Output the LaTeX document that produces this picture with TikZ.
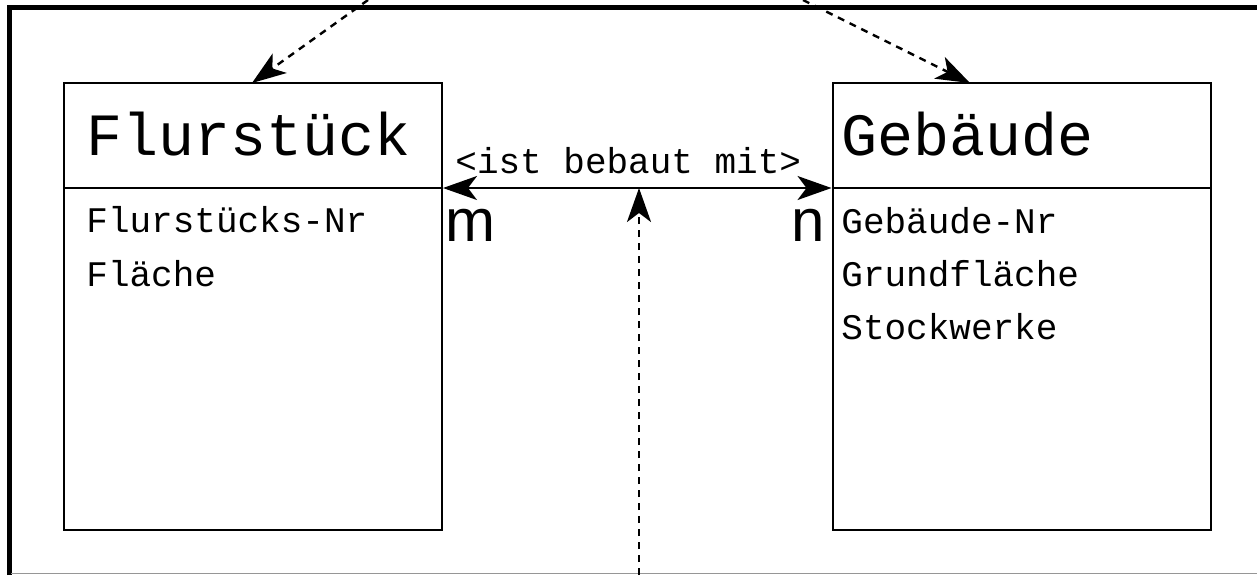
\documentclass[tikz,border=0pt]{standalone}
\usepackage{fontspec}
\setmonofont{Liberation Mono}
\setsansfont{Liberation Sans}
\usetikzlibrary{arrows.meta}

\begin{document}
\begin{tikzpicture}[x=0.5pt,y=0.5pt,yscale=-1,xscale=1,
    entbox/.style={draw, line width=1pt, rectangle, inner sep=0pt, minimum width=189pt, minimum height=223.5pt},
    titletext/.style={anchor=base west, inner sep=0pt, font=\ttfamily\fontsize{30}{36}\selectfont},
    attrtext/.style={anchor=base west, inner sep=0pt, font=\ttfamily\fontsize{18}{22}\selectfont},
    cardtext/.style={anchor=base west, inner sep=0pt, font=\sffamily\fontsize{30}{34}\selectfont},
    ertip/.tip={Stealth[length=17pt,width=12pt,inset=4.5pt]},
    dashline/.style={dash pattern={on 3.5pt off 3pt}, line width=1.2pt},
  ]
  \useasboundingbox (0,0) rectangle (1257,575);
  %Frame
  \draw [line width=2.5pt] (9.5,575) -- (9.5,7.5) -- (1257,7.5) ;
  \draw [color={rgb, 255:red, 150; green, 150; blue, 150 }, line width=0.5pt] (11,573) -- (1257,573) ;

  %Shape: Rectangle (Flurstueck)
  \node [entbox] (flur) at (253,306.5) {} ;
  %Shape: Rectangle (Gebaeude)
  \node [entbox] (geb) at (1021.5,306.5) {} ;

  %Header lines
  \coordinate (hdr) at (0,188) ;
  \coordinate (flurR) at (flur.east |- hdr) ;
  \coordinate (gebL) at (geb.west |- hdr) ;
  \draw [line width=1pt] (flur.west |- hdr) -- (flurR) ;
  \draw [line width=1pt] (gebL) -- (geb.east |- hdr) ;

  %Titles
  \node [titletext] (flurtitle) at (86,155) {Flurstück} ;
  \node [titletext] (gebtitle) at (841,155) {Gebäude} ;

  %Attributes
  \node [attrtext] (flurnr) at (86,232) {Flurstücks-Nr} ;
  \node [attrtext] (flaeche) at (86,286) {Fläche} ;
  \node [attrtext] (gebnr) at (841,233) {Gebäude-Nr} ;
  \node [attrtext] (grund) at (841,286) {Grundfläche} ;
  \node [attrtext] (stock) at (841,339) {Stockwerke} ;

  %Relation
  \draw [line width=1pt, ertip-ertip] (flurR) -- (gebL) ;
  \node [attrtext] (rel) at (455,173) {<ist bebaut mit>} ;
  \node [cardtext] (cardm) at (445,241) {m} ;
  \node [cardtext] (cardn) at (791,241) {n} ;

  %Dashed Lines
  \coordinate (srcL) at (368,0) ;
  \coordinate (srcR) at (803,0) ;
  \coordinate (srcB) at (639,575) ;
  \coordinate (flurT) at (252,83) ;
  \coordinate (gebT) at (970,83) ;
  \coordinate (relmid) at (639,188) ;
  \draw [dashline, -ertip] (srcL) -- (flurT) ;
  \draw [dashline, -ertip] (srcR) -- (gebT) ;
  \draw [dashline, -ertip] (srcB) -- (relmid) ;
\end{tikzpicture}
\end{document}
